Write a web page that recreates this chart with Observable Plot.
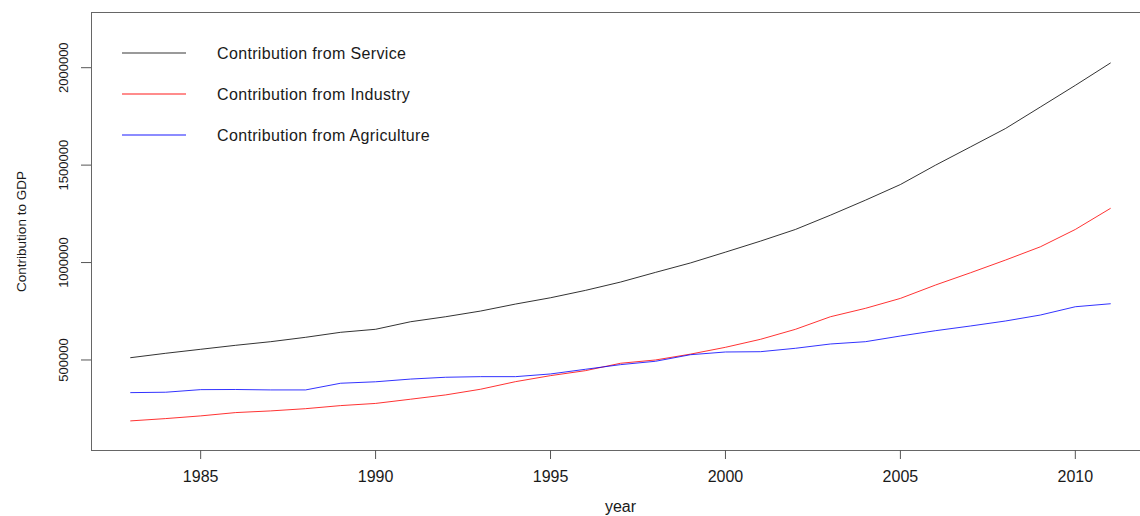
<!DOCTYPE html>
<html>
<head>
<meta charset="utf-8">
<script src="https://cdn.jsdelivr.net/npm/d3@7"></script>
<script src="https://cdn.jsdelivr.net/npm/@observablehq/plot@0.6"></script>
<style>
  html, body { margin: 0; padding: 0; background: #fff; }
  #wrap { position: relative; width: 1140px; height: 516px; overflow: hidden; font-family: "Liberation Sans", Arial, sans-serif; }
  #wrap svg { max-width: none !important; }
  .legline { position: absolute; left: 122px; width: 64px; height: 2px; }
  .legtext { position: absolute; left: 217px; font-size: 16px; line-height: 18px; letter-spacing: 0.35px; color: #1a1a1a; white-space: nowrap; }
</style>
</head>
<body>
<div id="wrap"></div>
<script>
const years = [1983,1984,1985,1986,1987,1988,1989,1990,1991,1992,1993,1994,1995,1996,1997,1998,1999,2000,2001,2002,2003,2004,2005,2006,2007,2008,2009,2010,2011];
const service = [511800,534300,554800,575300,593800,616300,642000,657500,696300,721900,751100,787000,819300,857200,899800,949500,998000,1053500,1109900,1169800,1243100,1320000,1400400,1499400,1593200,1687400,1798100,1909400,2023700];
const industry = [187400,199200,213000,230000,238600,250000,265800,277000,298600,320600,349800,388800,419600,445200,483100,500000,530000,565000,606000,657300,721900,765000,816000,884400,947400,1012500,1080700,1169800,1277500];
const agriculture = [332400,334500,347800,348500,346300,346300,380600,388000,402000,411300,414400,414400,428200,452300,476000,493300,527000,541000,542500,560000,582000,593800,623000,650200,674300,699900,730600,773200,788500];
const seriesNames = ["Contribution from Service","Contribution from Industry","Contribution from Agriculture"];
const seriesColors = ["black","red","blue"];
const legendColors = ["#9a9a9a","#ff8c8c","#8c8cff"];
const xTicks = [1985,1990,1995,2000,2005,2010];
const yTicks = [500000,1000000,1500000,2000000];
const xLabel = "year";
const yLabel = "Contribution to GDP";

const seriesValues = [service, industry, agriculture];
const data = [];
seriesNames.forEach((name, s) => {
  years.forEach((yr, i) => data.push({series: name, year: yr, value: seriesValues[s][i]}));
});

// R-style 4% axis extension
const xMin = d3.min(years), xMax = d3.max(years);
const xPad = (xMax - xMin) * 0.04;

const chart = Plot.plot({
  width: 1149,
  height: 516,
  marginLeft: 91,
  marginRight: 0,
  marginTop: 12,
  marginBottom: 66,
  style: {fontFamily: "Liberation Sans, Arial, sans-serif", color: "#1a1a1a", background: "white", maxWidth: "none"},
  x: {domain: [xMin - xPad, xMax + xPad]},
  y: {domain: [35400, 2283300]},
  color: {domain: seriesNames, range: seriesColors},
  marks: [
    Plot.frame({stroke: "#666", strokeWidth: 1}),
    Plot.axisX({ticks: xTicks, tickSize: 9, tickPadding: 11, fontSize: 16, tickFormat: d => String(d), label: null, stroke: "#555"}),
    Plot.axisY({ticks: yTicks, tickSize: 10, tickPadding: 14, tickRotate: -90, fontSize: 13, tickFormat: d => String(d), label: null, stroke: "#555"}),
    Plot.text([xLabel], {frameAnchor: "bottom", dy: 61, lineAnchor: "bottom", textAnchor: "middle", fontSize: 16, fill: "#1a1a1a"}),
    Plot.text([yLabel], {frameAnchor: "left", dx: -66, rotate: -90, lineAnchor: "bottom", textAnchor: "middle", fontSize: 13.5, fill: "#1a1a1a"}),
    Plot.line(data, {x: "year", y: "value", z: "series", stroke: "series", strokeWidth: 1, strokeOpacity: 0.8})
  ]
});
const wrap = document.getElementById("wrap");
wrap.appendChild(chart);

// legend overlay (top-left inside the plot box, as in the R legend)
const legendLineTops = [52, 93, 134];
seriesNames.forEach((name, i) => {
  const ln = document.createElement("div");
  ln.className = "legline";
  ln.style.top = legendLineTops[i] + "px";
  ln.style.backgroundColor = legendColors[i];
  wrap.appendChild(ln);
  const tx = document.createElement("div");
  tx.className = "legtext";
  tx.style.top = (legendLineTops[i] - 7) + "px";
  tx.textContent = name;
  wrap.appendChild(tx);
});
</script>
</body>
</html>
